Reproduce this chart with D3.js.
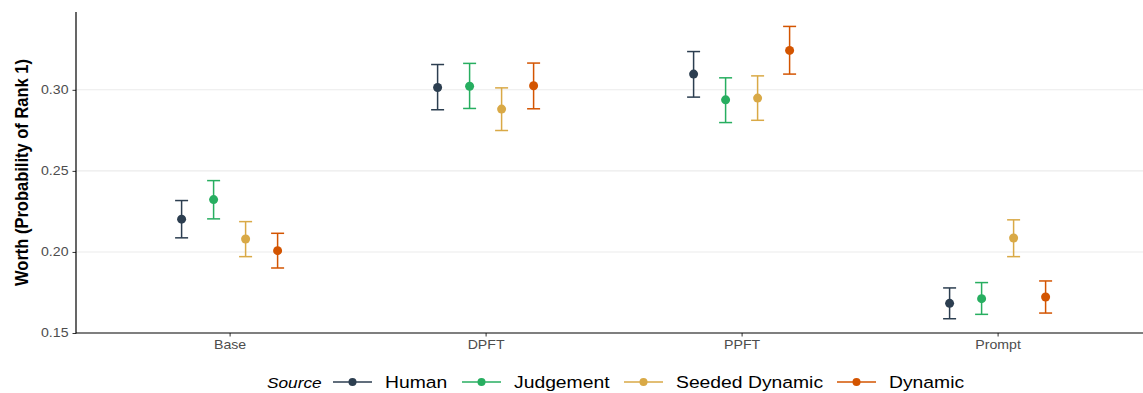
<!DOCTYPE html>
<html><head><meta charset="utf-8">
<script src="https://cdn.jsdelivr.net/npm/d3@7"></script>
<style>body{margin:0;background:#fff;} svg{display:block;font-family:"Liberation Sans",Arial,sans-serif;}</style>
</head><body><svg id="c" width="1143" height="393"></svg>
<script>
const categories = ["Base","DPFT","PPFT","Prompt"];
const series = ["Human","Judgement","Seeded Dynamic","Dynamic"];
const colors = ["#2c3e50","#27ae60","#d9a946","#d35400"];
const yTicks = [0.15,0.20,0.25,0.30];
// worth estimates [Base, DPFT, PPFT, Prompt]
const humanVal = [0.2202,0.3014,0.3097,0.1683];
const humanLo  = [0.2087,0.2877,0.2955,0.1588];
const humanHi  = [0.2317,0.3156,0.3236,0.1778];
const judgeVal = [0.2323,0.3022,0.2938,0.1712];
const judgeLo  = [0.2204,0.2885,0.2798,0.1615];
const judgeHi  = [0.2440,0.3163,0.3074,0.1811];
const seededVal = [0.2080,0.2881,0.2949,0.2086];
const seededLo  = [0.1971,0.2749,0.2812,0.1971];
const seededHi  = [0.2187,0.3012,0.3086,0.2198];
const dynVal = [0.2008,0.3025,0.3243,0.1722];
const dynLo  = [0.1901,0.2883,0.3097,0.1623];
const dynHi  = [0.2115,0.3165,0.3391,0.1821];

const vals=[humanVal,judgeVal,seededVal,dynVal], los=[humanLo,judgeLo,seededLo,dynLo], his=[humanHi,judgeHi,seededHi,dynHi];
const data=[];
series.forEach((s,si)=>categories.forEach((c,ci)=>data.push({s,si,c,v:vals[si][ci],lo:los[si][ci],hi:his[si][ci]})));

const svg=d3.select("#c");
const L=76,R=1143,T=12,B=333, step=256;
const SX=1.15;
const x=d3.scalePoint().domain(categories).range([L+0.6*step,L+3.6*step]);
const dodge=d3.scalePoint().domain(series).range([-48,48]);
const y=d3.scaleLinear().domain([0.15,0.348]).range([B,T]);
const col=d3.scaleOrdinal().domain(series).range(colors);

// grid
svg.append("g").selectAll("line").data(yTicks.slice(1)).join("line")
 .attr("x1",L).attr("x2",R).attr("y1",d=>y(d)).attr("y2",d=>y(d))
 .attr("stroke","#ebebeb").attr("stroke-width",1.1);

// axes
const ya=svg.append("g").attr("transform",`translate(${L},0)`)
 .call(d3.axisLeft(y).tickValues(yTicks).tickFormat(d3.format(".2f")).tickSize(3.5).tickPadding(3));
ya.select(".domain").remove();
ya.selectAll("text").attr("fill","#4d4d4d").style("font-size","12.3px").attr("transform",`scale(${SX},1)`);
ya.selectAll("line").attr("stroke","#333");
const xa=svg.append("g").attr("transform",`translate(0,${B})`)
 .call(d3.axisBottom(x).tickSize(3.5).tickPadding(4));
xa.select(".domain").remove();
xa.selectAll("text").attr("fill","#4d4d4d").style("font-size","12.3px").attr("transform",`scale(${SX},1)`);
xa.selectAll("line").attr("stroke","#333");
svg.append("line").attr("x1",L).attr("x2",L).attr("y1",T).attr("y2",B+0.6).attr("stroke","#000").attr("stroke-width",1.2);
svg.append("line").attr("x1",L).attr("x2",R).attr("y1",B).attr("y2",B).attr("stroke","#000").attr("stroke-width",1.2);

// error bars
const g=svg.append("g");
const cw=6.5;
const eb=g.selectAll("g.eb").data(data).join("g").attr("class","eb")
 .attr("stroke",d=>col(d.s)).attr("stroke-width",1.5);
eb.append("line").attr("x1",d=>x(d.c)+dodge(d.s)).attr("x2",d=>x(d.c)+dodge(d.s)).attr("y1",d=>y(d.lo)).attr("y2",d=>y(d.hi));
eb.append("line").attr("x1",d=>x(d.c)+dodge(d.s)-cw).attr("x2",d=>x(d.c)+dodge(d.s)+cw).attr("y1",d=>y(d.lo)).attr("y2",d=>y(d.lo));
eb.append("line").attr("x1",d=>x(d.c)+dodge(d.s)-cw).attr("x2",d=>x(d.c)+dodge(d.s)+cw).attr("y1",d=>y(d.hi)).attr("y2",d=>y(d.hi));
g.selectAll("circle").data(data).join("circle")
 .attr("cx",d=>x(d.c)+dodge(d.s)).attr("cy",d=>y(d.v)).attr("r",4.5).attr("fill",d=>col(d.s));

// y label
svg.append("text").attr("transform",`translate(28,${(T+B)/2}) rotate(-90) scale(1,${SX})`).attr("text-anchor","middle")
 .style("font-size","16.5px").style("font-weight","bold").attr("fill","#000").text("Worth (Probability of Rank 1)");

// legend
const lg=svg.append("g").attr("transform","translate(0,382)");
lg.append("text").attr("transform",`translate(267,5.5) scale(${SX},1)`).style("font-size","15px").style("font-style","italic").text("Source");
const keyX=[333,462,624,837];
series.forEach((s,i)=>{
  const k=lg.append("g").attr("transform",`translate(${keyX[i]},0)`);
  k.append("line").attr("x1",0).attr("x2",39).attr("y1",0).attr("y2",0).attr("stroke",colors[i]).attr("stroke-width",1.5);
  k.append("circle").attr("cx",19.5).attr("cy",0).attr("r",4).attr("fill",colors[i]);
  k.append("text").attr("transform",`translate(52,6) scale(${SX},1)`).style("font-size","16.8px").text(s);
});
</script></body></html>
